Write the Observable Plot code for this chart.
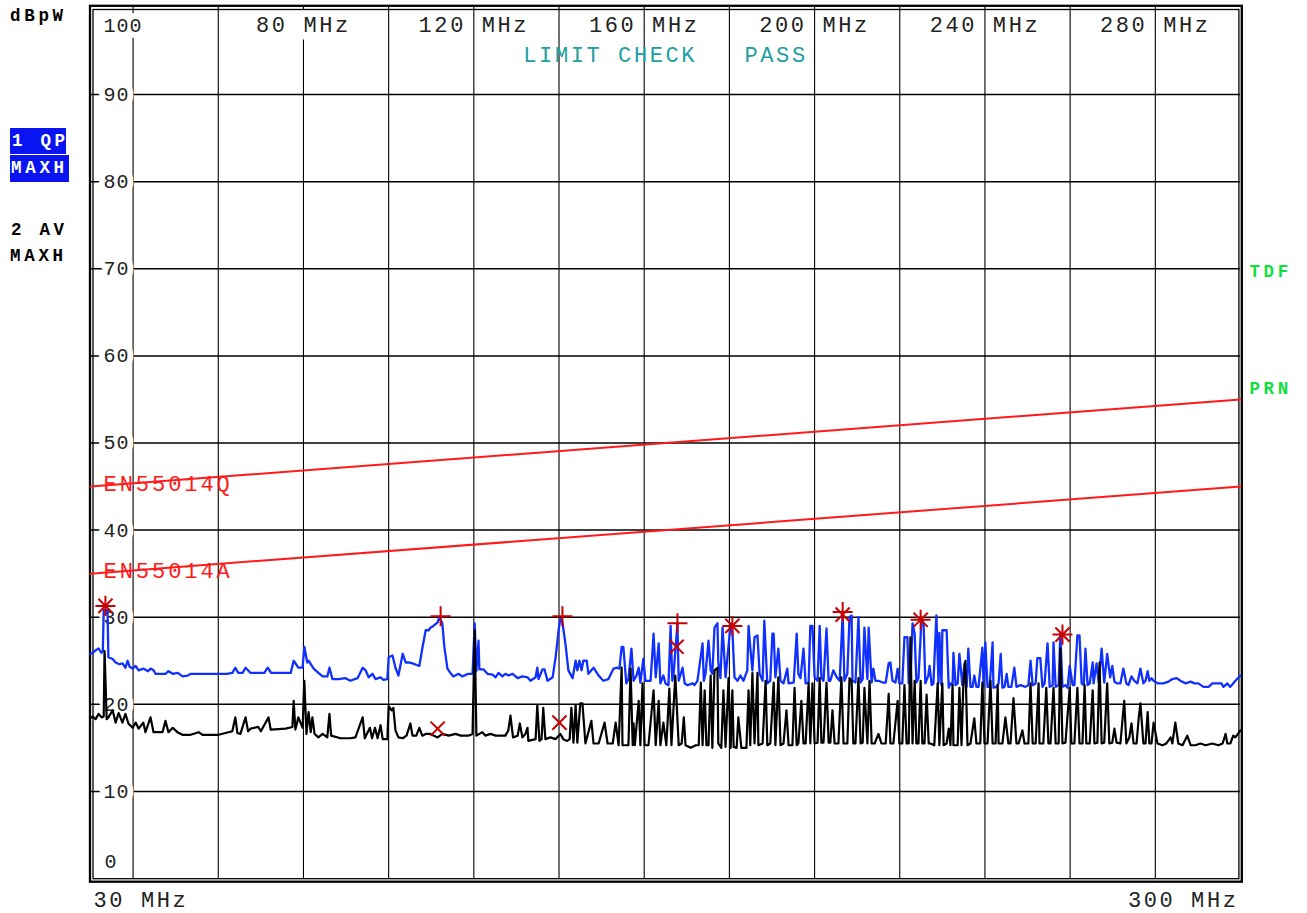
<!DOCTYPE html>
<html><head><meta charset="utf-8">
<script src="https://cdn.jsdelivr.net/npm/d3@7"></script>
<script src="https://cdn.jsdelivr.net/npm/@observablehq/plot@0.6"></script>
<style>
html,body{margin:0;padding:0;background:#fff;}
#wrap{position:relative;width:1307px;height:913px;overflow:hidden;background:#fff;}
#chart svg{display:block;}
.lbl{position:absolute;font-family:"Liberation Mono",monospace;font-weight:bold;font-size:17.5px;letter-spacing:3.7px;white-space:pre;color:#000;}
.box{background:#0a14f0;color:#fff;}
</style></head><body>
<div id="wrap"><div id="chart"></div>
<div class="lbl" style="left:10px;top:6px;line-height:20px;">dBpW</div>
<div class="lbl box" style="left:10px;top:128px;width:54px;height:26px;line-height:26px;padding-left:2px;">1 QP</div>
<div class="lbl box" style="left:10px;top:155px;width:58px;height:27px;line-height:27px;padding-left:1px;">MAXH</div>
<div class="lbl" style="left:11px;top:220px;line-height:20px;">2 AV</div>
<div class="lbl" style="left:10px;top:246px;line-height:20px;">MAXH</div>
</div>
<script>
// ---- axes / ticks ----
const xGrid = [40,60,80,100,120,140,160,180,200,220,240,260,280];
const xTopLabels = [80,120,160,200,240,280];
const xStartLabel = 30, xEndLabel = 300;
const yGrid = [10,20,30,40,50,60,70,80,90];
const yTopLabel = 100, yBottomLabel = 0;
const unitLabel = "MHz";
const checkText = "LIMIT CHECK\u00a0\u00a0\u00a0PASS";
const rightLabels = ["TDF","PRN"];

// ---- limit lines (MHz, dBpW) ----
const limitQ = [[30,45],[300,55]];
const limitA = [[30,35],[300,45]];
const limitNames = ["EN55014Q","EN55014A"];

// ---- trace 1: QP max hold (MHz, dBpW) ----
const qpTrace = [
[30.0,25.8],[30.5,25.9],[31.2,26.2],[31.9,26.4],[32.6,25.9],[32.9,26.1],[33.1,30.8],[34.0,30.8],[34.2,25.4],[35.2,25.2],[35.9,24.8],[36.8,24.6],[37.5,24.7],[38.2,24.2],[38.7,25.0],[39.2,24.3],[39.9,24.1],[40.6,24.4],[41.3,23.9],[42.4,24.1],[43.5,23.8],[44.1,24.1],[44.8,23.9],[45.3,23.5],[46.5,23.5],[47.6,23.5],[48.3,23.8],[49.3,23.5],[50.5,23.6],[51.6,23.2],[52.8,23.3],[53.6,23.5],[60.1,23.5],[62.0,23.5],[63.3,23.6],[64.0,24.2],[64.7,23.6],[65.7,23.6],[66.4,24.2],[67.6,23.6],[70.8,23.6],[71.6,24.2],[72.4,23.6],[77.0,23.6],[77.7,25.0],[78.8,24.2],[79.8,24.2],[80.2,26.6],[80.9,24.8],[81.2,25.0],[82.4,24.1],[83.5,23.6],[84.5,23.2],[85.6,23.2],[86.1,24.2],[86.8,22.9],[88.2,22.9],[89.9,23.0],[91.0,22.7],[92.7,23.0],[93.9,24.2],[94.6,23.9],[95.3,23.1],[96.2,23.5],[96.9,22.9],[98.1,23.1],[98.8,22.8],[99.7,22.9],[100.0,25.4],[100.9,25.6],[101.6,24.2],[102.3,23.3],[103.3,25.8],[104.0,24.8],[104.7,24.8],[105.6,24.7],[107.2,24.4],[107.9,26.4],[108.7,28.5],[109.4,28.5],[109.8,28.8],[110.5,29.0],[111.5,29.4],[111.9,30.0],[112.6,29.3],[113.1,26.5],[113.8,24.1],[114.5,23.6],[115.2,23.2],[116.4,23.5],[117.3,23.2],[118.7,23.5],[119.7,23.5],[120.2,29.3],[120.6,23.8],[121.1,27.3],[121.3,24.0],[122.3,24.0],[123.2,23.5],[124.4,23.4],[125.1,23.1],[125.8,23.6],[126.7,23.2],[127.4,23.5],[128.1,23.3],[129.1,23.5],[130.3,23.0],[131.4,23.2],[132.6,23.1],[133.3,22.7],[134.5,23.1],[134.9,24.2],[135.2,22.9],[136.1,24.0],[136.6,24.0],[137.3,22.7],[138.5,23.1],[139.2,25.4],[139.9,28.5],[140.3,29.8],[140.8,29.4],[141.5,27.0],[142.2,23.9],[143.2,23.0],[143.9,25.0],[144.3,23.9],[144.8,25.0],[145.3,23.9],[145.7,25.0],[146.5,25.0],[146.9,23.5],[148.1,24.2],[149.3,23.3],[150.4,22.7],[151.6,22.9],[152.8,24.1],[153.7,24.2],[154.2,24.1],[154.7,26.6],[155.1,26.6],[155.8,22.4],[156.3,22.9],[157.0,26.4],[157.5,22.7],[158.2,23.3],[158.7,24.2],[159.1,22.5],[159.8,25.2],[160.3,22.7],[161.5,22.7],[162.2,28.1],[162.7,23.1],[163.4,27.0],[163.8,22.4],[164.5,23.3],[165.0,22.4],[165.7,22.2],[166.2,29.0],[166.6,22.7],[166.9,23.5],[167.8,29.3],[168.1,22.7],[169.0,24.2],[169.5,22.4],[170.2,22.2],[171.4,22.4],[171.8,22.2],[172.5,22.7],[173.7,27.0],[174.0,22.7],[174.4,23.5],[175.1,27.3],[175.6,23.9],[176.0,23.5],[176.5,28.8],[177.2,29.3],[177.4,24.8],[177.9,23.0],[178.4,28.8],[179.1,23.1],[180.3,29.3],[180.7,28.5],[181.2,23.1],[181.9,22.7],[182.6,23.3],[183.3,22.7],[184.2,23.9],[184.5,29.0],[184.9,26.6],[185.4,23.9],[185.9,27.7],[186.6,27.9],[187.1,23.5],[187.8,22.7],[188.2,29.6],[188.9,22.4],[189.6,22.7],[190.1,28.1],[190.4,28.1],[190.8,23.1],[191.5,26.4],[192.0,22.7],[192.7,22.4],[193.6,24.1],[193.9,22.4],[195.1,22.5],[195.8,28.1],[196.2,23.5],[196.7,23.0],[197.4,26.4],[197.9,22.4],[198.6,22.5],[199.0,29.0],[199.5,29.0],[200.0,23.1],[200.7,22.7],[201.2,29.0],[201.6,23.1],[202.1,22.7],[202.8,28.7],[203.3,22.7],[203.7,22.7],[204.4,23.9],[205.2,23.1],[205.9,22.7],[206.6,30.5],[207.0,22.7],[207.7,23.5],[208.2,30.0],[208.7,30.2],[208.9,22.7],[209.6,22.5],[210.3,30.0],[210.8,22.5],[211.3,22.9],[211.7,28.8],[212.4,22.9],[212.7,28.8],[213.4,22.5],[213.8,24.1],[214.3,22.7],[215.0,22.7],[216.0,22.5],[216.7,22.5],[217.4,24.7],[217.8,24.8],[218.3,22.7],[219.0,22.5],[219.5,24.1],[219.9,22.4],[220.6,22.4],[221.1,27.7],[221.8,27.7],[222.1,22.4],[222.5,22.5],[223.0,29.3],[223.5,28.1],[223.9,22.5],[224.4,23.0],[225.1,29.8],[225.6,29.3],[226.0,22.4],[226.7,23.3],[227.0,24.4],[227.5,22.2],[227.9,22.4],[228.6,30.2],[229.1,22.4],[229.3,28.2],[229.8,22.2],[230.0,28.5],[231.0,28.5],[231.5,21.9],[231.9,22.4],[232.4,22.2],[232.6,25.9],[233.1,22.2],[233.6,22.4],[234.0,25.8],[234.7,22.2],[235.2,24.7],[235.7,22.0],[236.1,26.4],[236.6,22.0],[237.1,22.0],[237.5,23.3],[238.0,22.0],[238.5,22.0],[239.4,26.5],[239.7,21.9],[240.1,27.1],[240.6,22.0],[241.1,22.0],[241.8,27.1],[242.0,21.9],[242.7,22.0],[243.2,22.4],[243.7,25.8],[244.1,21.9],[244.6,22.0],[245.1,23.5],[245.5,22.0],[246.2,22.0],[246.9,24.2],[247.4,22.0],[248.3,22.2],[249.5,22.0],[250.2,22.2],[250.7,25.0],[251.2,22.2],[251.9,22.4],[252.3,25.3],[253.0,25.3],[253.5,22.0],[254.0,22.4],[254.7,27.0],[255.2,22.0],[255.9,22.2],[256.1,27.1],[256.6,22.0],[257.3,22.2],[257.7,28.1],[258.2,22.0],[258.9,22.2],[259.4,21.9],[259.9,24.4],[260.6,22.2],[261.0,22.2],[261.7,27.9],[262.2,27.9],[262.7,22.4],[263.2,22.2],[263.6,26.4],[264.1,22.2],[264.6,22.4],[265.3,24.8],[265.5,22.4],[266.2,24.7],[266.7,22.5],[267.4,26.4],[268.0,22.5],[268.7,25.8],[269.4,23.1],[269.9,24.4],[270.4,22.6],[271.1,22.4],[271.8,22.4],[272.5,24.1],[273.2,22.4],[273.7,22.2],[274.4,23.2],[275.1,22.7],[275.8,22.4],[276.5,24.1],[277.2,22.4],[277.7,22.7],[278.2,23.8],[278.6,22.7],[279.1,23.0],[279.6,22.7],[280.7,22.4],[281.9,22.4],[283.1,22.6],[284.0,22.9],[285.0,23.0],[285.9,22.7],[287.1,22.4],[288.3,22.6],[289.2,22.4],[290.1,22.4],[291.3,22.0],[292.5,22.0],[293.4,22.4],[294.6,22.4],[295.5,22.4],[296.0,22.0],[296.9,22.4],[297.6,22.0],[298.8,22.7],[300.0,23.3]
];

// ---- trace 2: AV max hold (MHz, dBpW) ----
const avTrace = [
[30.0,18.4],[30.5,18.6],[31.2,18.3],[31.9,18.9],[32.6,18.5],[33.1,18.6],[33.3,26.1],[33.8,18.3],[34.2,18.5],[35.2,19.3],[35.9,17.9],[36.6,19.0],[37.5,17.9],[38.2,18.9],[38.9,17.8],[39.9,17.3],[40.6,17.9],[41.3,17.2],[42.4,17.9],[42.9,16.8],[44.1,18.5],[44.8,16.8],[45.7,16.8],[46.9,16.8],[47.6,18.1],[48.3,16.8],[49.3,17.3],[50.4,16.8],[51.6,16.5],[53.5,16.5],[55.4,16.8],[56.3,16.5],[60.1,16.5],[63.3,16.9],[64.0,18.5],[64.5,16.7],[65.2,16.6],[66.4,18.5],[67.0,16.9],[67.6,17.2],[69.4,17.4],[70.0,16.9],[71.8,18.5],[72.3,17.1],[75.8,17.2],[77.4,17.4],[77.7,20.4],[78.1,17.1],[78.8,18.5],[79.3,17.9],[79.8,17.3],[80.2,22.7],[80.7,16.6],[81.2,19.1],[81.7,16.8],[82.1,18.5],[82.6,16.6],[83.5,16.2],[84.5,16.6],[85.6,16.2],[86.1,18.9],[86.5,16.4],[88.7,16.1],[91.0,16.1],[92.2,16.2],[93.9,18.5],[94.4,16.1],[95.6,17.3],[96.1,16.1],[96.8,17.3],[97.4,16.1],[98.1,17.6],[98.6,16.0],[99.7,16.0],[100.0,19.8],[100.7,19.3],[101.1,19.6],[101.6,17.0],[102.3,16.2],[103.3,16.1],[104.2,16.4],[105.1,17.8],[105.6,16.4],[106.5,16.4],[107.2,17.3],[107.9,16.4],[108.7,16.6],[109.8,16.6],[111.5,16.2],[112.6,16.6],[114.1,16.4],[115.7,16.6],[116.9,16.4],[118.7,16.4],[119.7,16.6],[120.2,28.5],[120.6,16.4],[122.0,16.8],[122.7,16.4],[123.9,16.6],[125.1,16.4],[126.7,16.4],[127.4,16.4],[128.1,17.0],[128.6,18.7],[129.2,16.2],[130.3,16.4],[130.8,17.8],[131.4,16.2],[132.1,16.6],[132.6,17.3],[132.8,15.8],[134.5,16.0],[134.9,19.9],[135.4,15.8],[135.9,16.0],[136.3,19.6],[136.8,16.0],[138.0,16.2],[139.2,16.0],[140.3,16.6],[141.0,16.0],[141.9,15.8],[142.5,16.0],[142.9,19.6],[143.4,15.6],[143.9,19.9],[144.3,15.6],[145.0,20.1],[145.5,20.1],[146.2,15.5],[147.6,18.1],[148.1,15.5],[149.3,15.5],[150.7,17.9],[151.4,15.5],[152.6,15.5],[153.3,17.9],[154.0,15.3],[154.7,24.2],[154.9,15.3],[156.3,15.3],[156.8,24.1],[157.3,15.3],[157.5,17.8],[157.8,15.3],[158.7,20.4],[159.1,15.3],[159.6,22.4],[160.1,15.3],[161.0,15.3],[162.2,21.6],[162.7,15.3],[163.4,20.4],[163.8,15.3],[164.5,17.9],[165.2,15.3],[165.9,21.8],[166.4,15.3],[167.3,23.3],[168.1,15.3],[168.8,15.5],[169.3,18.5],[169.7,15.3],[170.9,15.0],[172.1,15.3],[172.8,15.3],[173.3,22.5],[173.7,15.3],[174.2,21.6],[174.6,15.3],[175.1,15.3],[175.6,23.3],[176.0,15.0],[176.5,23.9],[177.2,24.2],[177.4,15.5],[178.1,15.0],[178.6,21.6],[179.1,15.1],[179.8,23.0],[180.3,15.0],[180.7,21.6],[181.0,15.1],[181.7,15.0],[182.1,18.5],[182.8,15.0],[184.0,15.0],[184.5,21.6],[184.9,15.3],[185.4,23.6],[185.9,15.5],[186.6,23.6],[186.8,15.3],[187.8,15.5],[188.5,22.7],[188.9,15.3],[189.6,15.5],[190.4,22.5],[190.8,15.3],[191.5,23.1],[192.0,15.3],[192.7,15.5],[193.4,19.3],[193.9,15.3],[194.8,15.3],[195.3,21.9],[195.8,15.3],[196.2,15.5],[196.9,20.4],[197.4,15.5],[197.9,15.5],[198.6,22.4],[199.0,15.5],[199.5,22.4],[200.0,15.5],[200.7,15.6],[201.2,23.0],[201.6,15.6],[202.1,15.6],[202.8,22.5],[203.3,15.6],[203.7,15.6],[204.2,19.3],[204.7,15.5],[205.6,15.5],[206.3,23.1],[206.8,15.5],[207.7,15.5],[208.2,23.0],[208.7,22.7],[209.1,15.5],[209.6,15.5],[210.3,23.0],[210.8,15.5],[211.3,15.6],[211.7,21.9],[212.4,15.5],[212.9,22.7],[213.4,15.5],[214.1,15.5],[215.0,16.6],[215.7,15.5],[216.7,15.5],[217.4,21.2],[217.8,15.5],[218.5,15.5],[219.5,20.4],[219.9,15.5],[220.6,15.5],[221.1,22.2],[221.6,15.5],[222.1,15.5],[222.5,27.7],[223.0,15.5],[223.5,22.7],[223.9,15.5],[224.4,15.5],[224.9,22.7],[225.3,15.5],[225.8,15.5],[226.3,21.1],[226.8,15.5],[227.2,15.5],[228.1,15.3],[228.9,22.4],[229.3,15.3],[230.0,22.4],[230.3,15.3],[231.0,15.5],[231.5,17.2],[231.9,15.3],[232.4,22.2],[232.6,15.3],[233.6,15.3],[234.0,21.9],[234.5,15.3],[234.9,21.9],[235.4,25.0],[235.9,15.3],[236.6,15.5],[237.5,18.4],[238.0,15.5],[238.9,15.5],[239.4,22.5],[239.9,15.5],[240.6,15.5],[241.3,22.7],[241.8,15.5],[242.5,15.5],[243.0,22.2],[243.2,15.5],[244.1,15.5],[244.8,18.5],[245.5,15.5],[246.0,15.5],[246.7,20.7],[247.4,15.5],[247.9,15.5],[248.8,17.0],[249.3,15.5],[250.2,15.5],[250.7,22.4],[251.2,15.5],[251.9,15.5],[252.6,22.4],[252.8,15.5],[253.7,15.5],[254.4,21.9],[254.9,15.5],[255.4,15.5],[256.1,21.9],[256.6,15.5],[257.3,15.5],[257.7,26.4],[258.2,15.5],[258.9,15.6],[259.9,21.9],[260.3,15.5],[261.0,15.5],[261.7,21.9],[262.2,15.5],[262.9,15.5],[263.4,22.2],[263.8,15.5],[264.6,15.5],[265.3,21.6],[265.7,15.5],[266.4,15.6],[266.9,24.8],[267.4,15.5],[268.0,15.6],[268.7,22.4],[269.2,15.5],[269.9,15.6],[270.4,17.2],[270.9,15.6],[271.8,15.5],[272.7,20.4],[273.2,15.5],[273.9,16.2],[274.4,17.8],[274.9,15.5],[275.6,15.5],[276.1,18.4],[276.5,20.1],[277.2,15.5],[277.7,15.5],[278.2,19.1],[278.6,15.5],[279.1,15.5],[279.6,17.9],[280.5,15.5],[281.7,15.3],[282.6,15.5],[283.6,16.2],[284.0,15.5],[284.7,17.9],[285.4,15.5],[286.4,15.3],[287.5,16.4],[288.3,15.3],[289.4,15.3],[290.6,15.5],[291.8,15.3],[293.4,15.5],[294.8,15.3],[295.8,15.5],[296.5,16.6],[296.9,15.5],[297.6,15.5],[298.3,16.4],[298.8,16.2],[300.0,17.0]
];

// ---- peak markers ----
const qpMarkers = [[33.5,31.3],[112.2,30.1],[140.8,30.1],[167.8,29.3],[180.7,29.0],[206.6,30.6],[224.9,29.7],[258.2,28.0]];
const avMarkers = [[33.5,31.3],[111.5,17.2],[140.1,17.9],[167.6,26.6],[180.7,29.0],[206.6,30.3],[224.9,29.7],[258.2,28.0]];

const FX = d => d[0], FY = d => d[1];
const teal = "#20a0a0", limitRed = "#ff1a1a", markRed = "#c80000", green = "#10e040", qpBlue = "#1030ff";

const chart = Plot.plot({
  width: 1307, height: 913,
  marginLeft: 90, marginRight: 67, marginTop: 7, marginBottom: 35,
  x: {type: "linear", domain: [30, 300], axis: null},
  y: {type: "linear", domain: [0, 100], axis: null},
  style: {fontFamily: '"Liberation Mono", monospace', background: "#fff"},
  marks: [
    Plot.ruleX(xGrid, {stroke: "#000", strokeWidth: 1.1}),
    Plot.ruleY(yGrid, {stroke: "#000", strokeWidth: 1.5}),
    // y labels with white background
    Plot.text(yGrid, {x: xStartLabel, y: d => d, text: d => String(d), textAnchor: "start", dx: 13, fontSize: 20, fill: "#222", stroke: "#fff", strokeWidth: 12}),
    Plot.text([yTopLabel], {x: xStartLabel, y: d => d, text: d => String(d), textAnchor: "start", dx: 13, dy: 18, fontSize: 20, fill: "#222", stroke: "#fff", strokeWidth: 12}),
    Plot.text([yBottomLabel], {x: xStartLabel, y: d => d, text: d => String(d), textAnchor: "start", dx: 14, dy: -17, fontSize: 20, fill: "#222", stroke: "#fff", strokeWidth: 12}),
    // top frequency labels
    Plot.text(xTopLabels, {x: d => d, y: yTopLabel, text: d => `${d} ${unitLabel}`, dy: 17, fontSize: 22, fill: "#222", stroke: "#fff", strokeWidth: 15}),
    // bottom start / stop
    Plot.text([xStartLabel], {x: d => d, y: yBottomLabel, text: d => `${d} ${unitLabel}`, textAnchor: "start", dx: 3, dy: 21, fontSize: 22, fill: "#222"}),
    Plot.text([xEndLabel], {x: d => d, y: yBottomLabel, text: d => `${d} ${unitLabel}`, textAnchor: "end", dx: -2, dy: 21, fontSize: 22, fill: "#222"}),
    // double frame
    Plot.frame({stroke: "#000", strokeWidth: 2.3, insetLeft: -0.5, insetTop: -1.7, insetRight: -1.3, insetBottom: -3.2}),
    Plot.frame({stroke: "#000", strokeWidth: 1.3, insetLeft: 2.5, insetTop: 2, insetRight: 1.6, insetBottom: -0.2}),
    // limit check
    Plot.text([checkText], {frameAnchor: "top", lineAnchor: "middle", dy: 47, text: d => d, fill: teal, fontSize: 22}),
    // limit lines
    Plot.line(limitQ, {x: FX, y: FY, stroke: limitRed, strokeWidth: 2}),
    Plot.line(limitA, {x: FX, y: FY, stroke: limitRed, strokeWidth: 2}),
    Plot.text([limitNames[0]], {x: limitQ[0][0], y: limitQ[0][1], text: d => d, textAnchor: "start", dx: 13, dy: -2.5, fill: limitRed, fontSize: 22.1}),
    Plot.text([limitNames[1]], {x: limitA[0][0], y: limitA[0][1], text: d => d, textAnchor: "start", dx: 13, dy: -3, fill: limitRed, fontSize: 22.1}),
    // traces
    Plot.line(qpTrace, {x: FX, y: FY, stroke: qpBlue, strokeWidth: 2.3, strokeLinejoin: "round"}),
    Plot.line(avTrace, {x: FX, y: FY, stroke: "#000", strokeWidth: 2.2, strokeLinejoin: "round"}),
    // markers
    Plot.dot(qpMarkers, {x: FX, y: FY, symbol: "plus", r: 6.5, stroke: markRed, strokeWidth: 2}),
    Plot.dot(avMarkers, {x: FX, y: FY, symbol: "times", r: 6.5, stroke: markRed, strokeWidth: 2}),
    // right side labels
    Plot.text([rightLabels[0]], {frameAnchor: "top-right", lineAnchor: "middle", text: d => d, textAnchor: "start", dx: 9, dy: 264, fill: green, fontWeight: "bold", fontSize: 17.5}),
    Plot.text([rightLabels[1]], {frameAnchor: "top-right", lineAnchor: "middle", text: d => d, textAnchor: "start", dx: 9, dy: 380.5, fill: green, fontWeight: "bold", fontSize: 17.5})
  ]
});
document.getElementById("chart").appendChild(chart);

// monospace letter spacing (Courier-like look) by font size group
const spacing = {"20": "1px", "22": "2.6px", "22.1": "2.9px", "17.5": "3.6px"};
d3.select(chart).selectAll("text").each(function() {
  let el = this, fs = null;
  while (el && el !== chart && fs == null) { fs = el.getAttribute && el.getAttribute("font-size"); el = el.parentNode; }
  if (fs && spacing[fs]) this.style.letterSpacing = spacing[fs];
});
</script>
</body></html>
